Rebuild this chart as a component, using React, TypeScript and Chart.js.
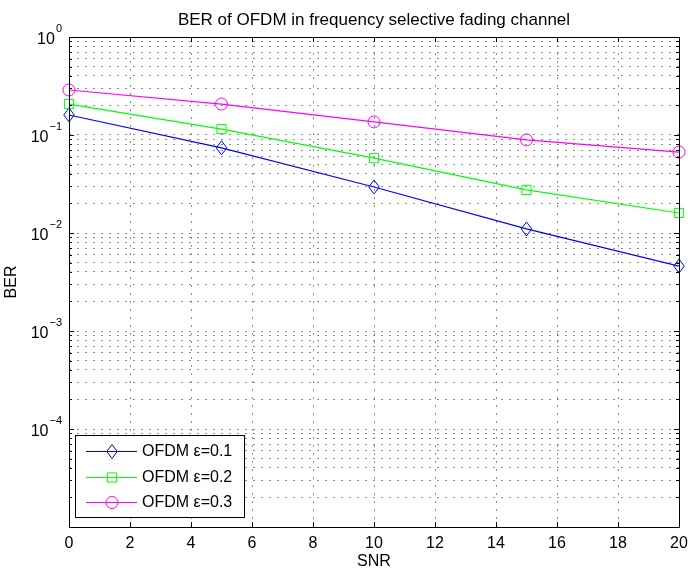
import React, { useEffect, useRef } from 'react';
import { Chart, registerables } from 'chart.js';

Chart.register(...registerables);

const snr = [0, 5, 10, 15, 20];
const ber01 = [0.16, 0.074, 0.0295, 0.011, 0.0046];
const ber02 = [0.207, 0.115, 0.058, 0.0275, 0.016];
const ber03 = [0.288, 0.207, 0.136, 0.089, 0.067];
const seriesLabels = ['OFDM \u03b5=0.1', 'OFDM \u03b5=0.2', 'OFDM \u03b5=0.3'];
const seriesColors = ['#0000ff', '#00ff00', '#ff00ff'];
const seriesMarkers = ['diamond', 'rect', 'circle'];
const seriesMarkerRadius = [7, 6.5, 6];
const xTickValues = [0, 2, 4, 6, 8, 10, 12, 14, 16, 18, 20];
const yDecades = [-5, -4, -3, -2, -1, 0];
const yLabelDecades = [-4, -3, -2, -1, 0];
const titleText = 'BER of OFDM in frequency selective fading channel';
const xTitle = 'SNR';
const yTitle = 'BER';

const FONT = '"Liberation Sans", Arial, Helvetica, sans-serif';

function buildYTicks() {
  const out: { value: number; major: boolean }[] = [];
  for (let i = 0; i < yDecades.length; i++) {
    const e = yDecades[i];
    const base = Math.pow(10, e);
    out.push({ value: base, major: true });
    if (i < yDecades.length - 1) {
      for (let m = 2; m <= 9; m++) out.push({ value: m * base, major: false });
    }
  }
  return out;
}

function drawMarker(ctx: CanvasRenderingContext2D, style: string, x: number, y: number, r: number, color: string) {
  ctx.save();
  ctx.strokeStyle = color;
  ctx.lineWidth = 1;
  ctx.beginPath();
  if (style === 'circle') {
    ctx.arc(x, y, r, 0, Math.PI * 2);
  } else if (style === 'rect') {
    const s = r * Math.SQRT1_2;
    ctx.rect(x - s, y - s, 2 * s, 2 * s);
  } else {
    ctx.moveTo(x, y - r);
    ctx.lineTo(x + r * 0.75, y);
    ctx.lineTo(x, y + r);
    ctx.lineTo(x - r * 0.75, y);
    ctx.closePath();
  }
  ctx.stroke();
  ctx.restore();
}

const decorPlugin = {
  id: 'matlabDecor',
  afterDatasetsDraw(chart: any) {
    const ctx = chart.ctx as CanvasRenderingContext2D;
    chart.data.datasets.forEach((ds: any, i: number) => {
      const meta = chart.getDatasetMeta(i);
      meta.data.forEach((pt: any) => {
        drawMarker(ctx, seriesMarkers[i], pt.x, pt.y, seriesMarkerRadius[i], ds.borderColor);
      });
    });
  },
  afterDraw(chart: any) {
    const ctx = chart.ctx as CanvasRenderingContext2D;
    const { left, right, top, bottom } = chart.chartArea;
    const xs = chart.scales.x;
    const ys = chart.scales.y;
    ctx.save();
    ctx.strokeStyle = '#000';
    ctx.lineWidth = 1;
    ctx.beginPath();
    ctx.rect(Math.round(left) + 0.5, Math.round(top) + 0.5, Math.round(right - left), Math.round(bottom - top));
    ctx.stroke();
    ctx.beginPath();
    xTickValues.forEach((v) => {
      const px = Math.round(xs.getPixelForValue(v)) + 0.5;
      ctx.moveTo(px, bottom);
      ctx.lineTo(px, bottom - 5);
      ctx.moveTo(px, top);
      ctx.lineTo(px, top + 5);
    });
    buildYTicks().forEach((t) => {
      const py = Math.round(ys.getPixelForValue(t.value)) + 0.5;
      const len = t.major ? 5 : 3;
      ctx.moveTo(left, py);
      ctx.lineTo(left + len, py);
      ctx.moveTo(right, py);
      ctx.lineTo(right - len, py);
    });
    ctx.stroke();

    ctx.fillStyle = '#000';
    yLabelDecades.forEach((e) => {
      const py = ys.getPixelForValue(Math.pow(10, e));
      const sup = e === 0 ? '0' : '\u2212' + String(-e);
      ctx.font = `11px ${FONT}`;
      const supW = ctx.measureText(sup).width;
      const supX = left - 7 - supW;
      ctx.textAlign = 'left';
      ctx.textBaseline = 'alphabetic';
      ctx.fillText(sup, supX, py - 5);
      ctx.font = `16px ${FONT}`;
      ctx.textAlign = 'right';
      ctx.fillText('10', supX - 1, py + 7);
    });

    ctx.font = `17px ${FONT}`;
    ctx.textAlign = 'center';
    ctx.textBaseline = 'alphabetic';
    ctx.fillText(titleText, (left + right) / 2, 25);

    ctx.font = `16px ${FONT}`;
    ctx.textBaseline = 'middle';
    ctx.fillText(xTitle, (left + right) / 2, 562);
    ctx.save();
    ctx.translate(12, (top + bottom) / 2);
    ctx.rotate(-Math.PI / 2);
    ctx.fillText(yTitle, 0, 0);
    ctx.restore();

    const lx = left + 6;
    const ly = 435;
    const lw = 169;
    const lh = 82;
    ctx.fillStyle = '#fff';
    ctx.fillRect(lx, ly, lw, lh);
    ctx.strokeStyle = '#000';
    ctx.lineWidth = 1;
    ctx.strokeRect(Math.round(lx) + 0.5, ly + 0.5, lw, lh);
    const rowYs = [451, 477, 502];
    chart.data.datasets.forEach((ds: any, i: number) => {
      const y = rowYs[i];
      ctx.strokeStyle = ds.borderColor;
      ctx.lineWidth = 1;
      ctx.beginPath();
      ctx.moveTo(lx + 11, y + 0.5);
      ctx.lineTo(lx + 62, y + 0.5);
      ctx.stroke();
      drawMarker(ctx, seriesMarkers[i], lx + 37, y + 0.5, seriesMarkerRadius[i], ds.borderColor);
      ctx.fillStyle = '#000';
      ctx.font = `16px ${FONT}`;
      ctx.textAlign = 'left';
      ctx.textBaseline = 'middle';
      ctx.fillText(ds.label, lx + 67, y + 1);
    });
    ctx.restore();
  },
};

export default function App() {
  const ref = useRef<HTMLCanvasElement | null>(null);
  useEffect(() => {
    document.body.style.margin = '0';
    const canvas = ref.current;
    if (!canvas) return;
    const allSeries = [ber01, ber02, ber03];
    const chart = new Chart(canvas, {
      type: 'line',
      data: {
        datasets: allSeries.map((vals, i) => ({
          label: seriesLabels[i],
          data: snr.map((x, j) => ({ x, y: vals[j] })),
          borderColor: seriesColors[i],
          backgroundColor: 'rgba(0,0,0,0)',
          borderWidth: 1.2,
          pointRadius: 0,
          tension: 0,
          fill: false,
        })),
      },
      options: {
        responsive: false,
        animation: false,
        events: [],
        layout: { padding: { left: 0, right: 11, top: 37, bottom: 0 } },
        plugins: {
          legend: { display: false },
          title: { display: false },
          tooltip: { enabled: false },
        },
        scales: {
          x: {
            type: 'linear',
            min: 0,
            max: 20,
            afterBuildTicks: (scale: any) => {
              scale.ticks = xTickValues.map((v) => ({ value: v }));
            },
            afterFit: (scale: any) => {
              scale.height = 46;
              scale.paddingLeft = 0;
              scale.paddingRight = 0;
            },
            ticks: {
              color: '#000',
              font: { family: FONT, size: 16 },
              padding: 7,
              maxRotation: 0,
              autoSkip: false,
            },
            grid: {
              color: '#8c8c8c',
              lineWidth: 1,
              drawTicks: false,
            },
            border: { display: false, dash: [2, 6] },
          },
          y: {
            type: 'logarithmic',
            min: 1e-5,
            max: 1,
            afterBuildTicks: (scale: any) => {
              scale.ticks = buildYTicks().map((t) => ({ value: t.value, major: t.major }));
            },
            afterFit: (scale: any) => {
              scale.width = 69;
              scale.paddingTop = 0;
              scale.paddingBottom = 0;
            },
            ticks: { display: false, autoSkip: false },
            grid: {
              color: '#8c8c8c',
              lineWidth: 1,
              drawTicks: false,
            },
            border: { display: false, dash: [2, 6] },
          },
        },
      } as any,
      plugins: [decorPlugin],
    });
    return () => chart.destroy();
  }, []);
  return <canvas ref={ref} width={690} height={573} style={{ display: 'block' }} />;
}
